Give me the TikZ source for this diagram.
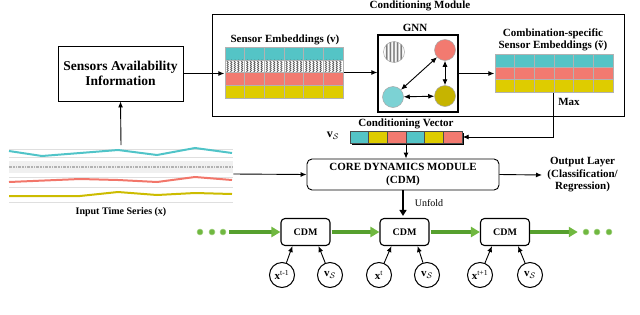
\documentclass[tikz,border=0pt]{standalone}
\usepackage{fontspec}
\setmainfont{Liberation Serif}
\usepackage{amsmath}
\usepackage{amssymb}
\usepackage{tikz}
\usepackage{xcolor}
\usetikzlibrary{fit,shadows,arrows.meta,decorations.pathmorphing}

\definecolor{cyanS}{RGB}{84,196,198}
\definecolor{salmonS}{RGB}{242,122,112}
\definecolor{yellowS}{RGB}{222,204,0}
\definecolor{cyanN}{RGB}{124,210,212}
\definecolor{yellowN}{RGB}{198,180,0}
\definecolor{greenA}{RGB}{86,160,46}
\definecolor{greenB}{RGB}{112,184,64}
\definecolor{tsCyan}{RGB}{80,196,200}
\definecolor{tsSalmon}{RGB}{242,118,106}
\definecolor{tsYellow}{RGB}{204,188,0}

\begin{document}
\begin{tikzpicture} % flujo del modelo
  [
    x=1pt, y=-1pt, line width=0.9pt, >={Latex[length=6pt,width=5pt]},
    % estilos para no repetir codigo
    box/.style={draw, line width=0.9pt, align=center, inner sep=0pt},
    lbl/.style={font=\bfseries\fontsize{11}{12.5}\selectfont, align=center, inner sep=1pt},
    cell/.style={rectangle, draw=gray!60, line width=0.5pt, minimum width=19.67pt, minimum height=12.75pt, inner sep=0pt},
    vcell/.style={rectangle, draw=gray!60!black, line width=0.5pt, minimum width=18.67pt, minimum height=12pt, inner sep=0pt, drop shadow={shadow xshift=1.6pt, shadow yshift=-1.6pt, opacity=1, fill=black}},
    zz/.style={draw=black!70, line width=0.5pt, decorate, decoration={zigzag, segment length=2pt, amplitude=0.8pt}},
    wavy/.style={path picture={\foreach \k in {-0.72,-0.36,0,0.36,0.72} \draw[zz] ([xshift=\k*10pt]path picture bounding box.north) -- ([xshift=\k*10pt]path picture bounding box.south);}},
    gnode/.style={circle, draw=gray!70, line width=0.5pt, minimum size=21pt, inner sep=0pt},
    cdm/.style={draw, line width=1.1pt, rounded corners=4pt, minimum width=49pt, minimum height=27pt, inner sep=0pt, font=\bfseries\fontsize{10}{11}\selectfont},
    state/.style={circle, draw, line width=1pt, minimum size=25pt, inner sep=0pt, font=\fontsize{11}{12}\selectfont},
    flow/.style={draw=greenA, line width=3.5pt, -{Triangle[length=9pt,width=10pt,color=greenB]}},
    gdot/.style={circle, fill=greenB, draw=greenB!60, line width=0.5pt, minimum size=6pt, inner sep=0pt}
  ]
  \useasboundingbox (0,0) rectangle (640,314);

  % modulo de condicionamiento
  \node[box, minimum width=412pt, minimum height=102pt] (cmod) at (418,65) {};
  \node[lbl] (cmodl) at (420,6) {Conditioning Module};
  \node[box, font=\bfseries\fontsize{13.5}{15.5}\selectfont, minimum width=125pt, minimum height=55pt] (sai) at (120.5,73.5) {Sensors Availability\\Information};

  % embeddings de sensores
  \foreach \r/\col in {1/cyanS,3/salmonS,4/yellowS}
    \foreach \i in {1,...,6}
      \node[cell, fill=\col] (emb-\r-\i) at ({225+(\i-0.5)*19.67}, {47+(\r-0.5)*12.75}) {};
  \foreach \i in {1,...,6}
    \node[cell, fill=white, wavy] (emb-2-\i) at ({225+(\i-0.5)*19.67}, {47+1.5*12.75}) {};
  \node[fit=(emb-1-1)(emb-4-6), inner sep=0pt] (emb) {};
  \node[lbl] (embl) at (285,40) {Sensor Embeddings (v)};

  % GNN
  \node[box, line width=1.3pt, minimum width=80pt, minimum height=77pt] (gnn) at (418,73.5) {};
  \node[lbl] (gnnl) at (415,28) {GNN};
  \node[gnode, wavy] (g0) at (394,52) {};
  \node[gnode, fill=salmonS] (g1) at (445,50) {};
  \node[gnode, fill=cyanN] (g2) at (393,97) {};
  \node[gnode, fill=yellowN] (g3) at (445,96) {};
  \draw[<->] (g1) -- (g2);
  \draw[<->] (g1) -- (g3);
  \draw[<->] (g2) -- (g3);

  % embeddings especificos
  \foreach \r/\col in {1/cyanS,2/salmonS,3/yellowS}
    \foreach \i in {1,...,6}
      \node[cell, fill=\col] (comb-\r-\i) at ({495+(\i-0.5)*19.67}, {54+(\r-0.5)*12.75}) {};
  \node[fit=(comb-1-1)(comb-3-6), inner sep=0pt] (comb) {};
  \node[lbl] (combl) at (553,40) {Combination-specific\\Sensor Embeddings (\~{v})};
  \node[lbl] (maxl) at (569,102) {Max};

  % vector de condicionamiento
  \foreach \col [count=\i] in {cyanS,yellowS,salmonS,cyanS,yellowS,salmonS}
    \node[vcell, fill=\col] (cv-\i) at ({350+(\i-0.5)*18.67}, 137) {};
  \node[fit=(cv-1)(cv-6), inner sep=0pt] (cv) {};
  \node[lbl] (cvl) at (406,124) {Conditioning Vector};
  \node[font=\fontsize{12}{13}\selectfont] (vs) at (333,136) {$\mathbf{v}_{\mathcal{S}}$};

  % CDM
  \node[box, rounded corners=5pt, font=\bfseries\fontsize{11}{13}\selectfont, minimum width=192pt, minimum height=31pt] (core) at (403,174.5) {CORE DYNAMICS MODULE\\(CDM)};
  \node[lbl, anchor=west, inner sep=5pt] (outl) at (542,175) {Output Layer\\(Classification/\\Regression)};

  % serie temporal
  \node[inner sep=0pt, minimum width=224pt, minimum height=57pt] (ts) at (121,174) {};
  \fill[gray!12] (9,161) rectangle (233,173);
  \draw[gray!25, line width=0.6pt] (9,149) -- (233,149);
  \draw[gray!25, line width=0.6pt] (9,157) -- (233,157);
  \draw[gray!25, line width=0.6pt] (9,177) -- (233,177);
  \draw[gray!25, line width=0.6pt] (9,187) -- (233,187);
  \draw[gray!25, line width=0.6pt] (9,202) -- (233,202);
  \draw[gray!60, line width=1.8pt, dash pattern=on 3pt off 1pt on 2pt off 1pt on 1pt off 1pt] (9,167) -- (233,167);
  \draw[tsCyan, line width=2pt] (9,151) -- (42,156) -- (118,150) -- (157,155) -- (195,148) -- (232,153);
  \draw[tsSalmon, line width=2pt] (9,182) -- (80,179) -- (118,180) -- (157,182) -- (195,177) -- (232,180);
  \draw[tsYellow, line width=2pt] (9,196) -- (80,196) -- (118,192) -- (157,195) -- (195,193) -- (232,194);
  \node[lbl, font=\bfseries\fontsize{10}{11}\selectfont] (tsl) at (121,212) {Input Time Series (x)};

  % conexiones
  \draw[->] (ts.north) -- (sai.south);
  \draw[->] (sai.east) -- (sai.east -| emb.west);
  \draw[->] (emb.east) -- (emb.east -| gnn.west);
  \draw[->] (gnn.east) -- (gnn.east -| comb.west);
  \draw[->] (comb-3-4.south west) |- (cv.east);
  \draw[->] (cv.south) -- (cv.south |- core.north);
  \draw[->] (ts.east) -- (core.west);
  \draw[->] (core.east) -- (outl.west);

  % desplegado
  \node[cdm] (c1) at (305.5,232) {CDM};
  \node[cdm] (c2) at (404.5,232) {CDM};
  \node[cdm] (c3) at (505,232) {CDM};
  \draw[line width=2.6pt, shorten >=2pt, -{Triangle[length=6pt,width=7pt]}] (core.south) -- (core.south |- c2.north);
  \node[font=\fontsize{10}{11}\selectfont, anchor=west] (unf) at (411,203) {Unfold};

  \node[gdot] (d1) at (200,232) {};
  \node[gdot] (d2) at (212,232) {};
  \node[gdot] (d3) at (223,232) {};
  \node[gdot] (e1) at (586,232) {};
  \node[gdot] (e2) at (597,232) {};
  \node[gdot] (e3) at (609,232) {};
  \draw[flow, shorten <=3pt] (d3) -- (c1.west);
  \draw[flow, shorten <=1pt] (c1.east) -- (c2.west);
  \draw[flow, shorten <=1pt] (c2.east) -- (c3.west);
  \draw[flow, shorten >=5pt] (c3.east) -- (e1.west);

  \node[state] (x1) at (282,275) {$\mathbf{x}^{\text{t-1}}$};
  \node[state] (s1) at (330,275) {$\mathbf{v}_{\mathcal{S}}$};
  \node[state] (x2) at (379,275) {$\mathbf{x}^{\text{t}}$};
  \node[state] (s2) at (427,275) {$\mathbf{v}_{\mathcal{S}}$};
  \node[state] (x3) at (480,275) {$\mathbf{x}^{\text{t+1}}$};
  \node[state] (s3) at (530,275) {$\mathbf{v}_{\mathcal{S}}$};
  \draw[->] (x1) -- ([xshift=12pt]c1.south west);
  \draw[->] (s1) -- ([xshift=-12pt]c1.south east);
  \draw[->] (x2) -- ([xshift=12pt]c2.south west);
  \draw[->] (s2) -- ([xshift=-12pt]c2.south east);
  \draw[->] (x3) -- ([xshift=12pt]c3.south west);
  \draw[->] (s3) -- ([xshift=-12pt]c3.south east);

\end{tikzpicture}
\end{document}
